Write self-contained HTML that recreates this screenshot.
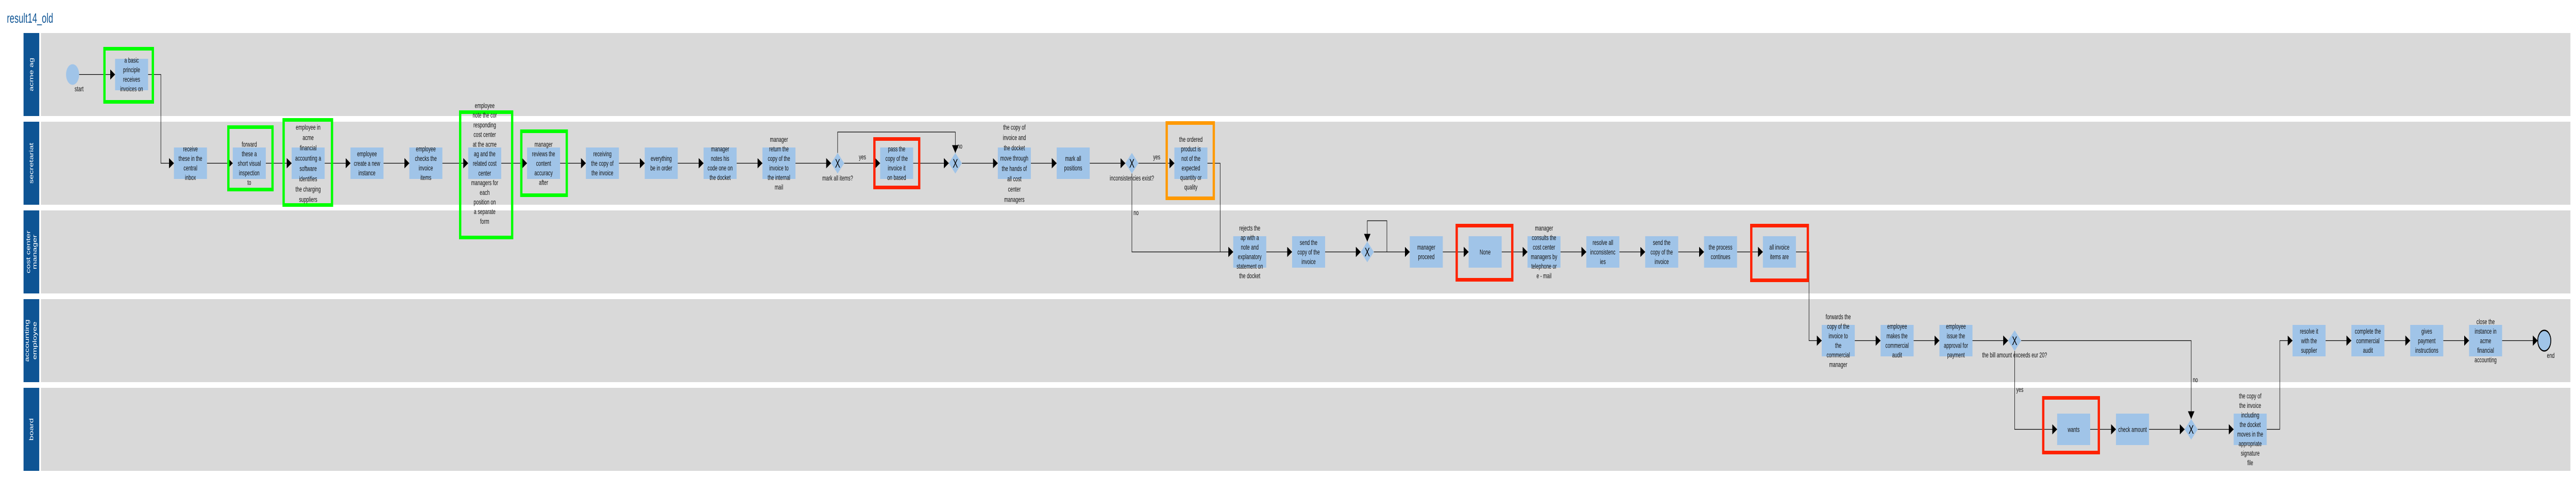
<!DOCTYPE html>
<html><head><meta charset="utf-8"><style>
html,body{margin:0;padding:0;background:#fff;width:100%;height:100%;overflow:hidden;}
svg{display:block;width:100vw;height:100vh;}
text{font-family:"Liberation Sans",Arial,sans-serif;}
.t{font-size:14px;fill:#111;text-anchor:middle;}
.l{font-size:14px;fill:#111;}
.ln{stroke:#000;stroke-width:1.3;fill:none;}
.a{marker-end:url(#ar);}
.task{fill:#a0c4e8;}
.gw{fill:#a0c4e8;}
.x{font-size:24px;fill:#000;text-anchor:middle;}
.lane{fill:#d9d9d9;}
.lbl{fill:#0e5494;}
.lt{font-size:17px;fill:#fff;text-anchor:middle;}
.g{fill:none;stroke:#00ff00;stroke-width:7;}
.r{fill:none;stroke:#ff2200;stroke-width:7;}
.o{fill:none;stroke:#ff9900;stroke-width:7;}
</style></head><body>
<svg viewBox="0 0 7879 954" preserveAspectRatio="none" xmlns="http://www.w3.org/2000/svg">
<defs>
<marker id="ar" markerUnits="userSpaceOnUse" markerWidth="15" markerHeight="20" viewBox="0 0 10 10" refX="10" refY="5" orient="auto" preserveAspectRatio="none">
<path d="M0,0 L10,5 L0,10 z" fill="#000"/></marker>
</defs>
<text x="21" y="44" style="font-size:26px;fill:#0e5494;">result14_old</text>

<rect class="lbl" x="72" y="64" width="48" height="161"/><rect class="lane" x="125" y="64" width="7737" height="161"/>
<rect class="lbl" x="72" y="236" width="48" height="161"/><rect class="lane" x="125" y="236" width="7737" height="161"/>
<rect class="lbl" x="72" y="408" width="48" height="161"/><rect class="lane" x="125" y="408" width="7737" height="161"/>
<rect class="lbl" x="72" y="580" width="48" height="161"/><rect class="lane" x="125" y="580" width="7737" height="161"/>
<rect class="lbl" x="72" y="752" width="48" height="161"/><rect class="lane" x="125" y="752" width="7737" height="161"/>
<text class="lt" transform="translate(102,144.5) rotate(-90)">acme ag</text>
<text class="lt" transform="translate(102,316.5) rotate(-90)">secretariat</text>
<text class="lt" transform="translate(92,488.5) rotate(-90)">cost center</text>
<text class="lt" transform="translate(112,488.5) rotate(-90)">manager</text>
<text class="lt" transform="translate(88,660.5) rotate(-90)">accounting</text>
<text class="lt" transform="translate(112,660.5) rotate(-90)">employee</text>
<text class="lt" transform="translate(102,832.5) rotate(-90)">board</text>

<path class="ln a" d="M242,144.5 H352"/>
<path class="ln a" d="M453,144.5 H492 V316.5 H532"/>
<path class="ln a" d="M633,316.5 H712"/>
<path class="ln a" d="M813,316.5 H892"/>
<path class="ln a" d="M993,316.5 H1072"/>
<path class="ln a" d="M1173,316.5 H1252"/>
<path class="ln a" d="M1353,316.5 H1432"/>
<path class="ln a" d="M1533,316.5 H1612"/>
<path class="ln a" d="M1713,316.5 H1792"/>
<path class="ln a" d="M1893,316.5 H1972"/>
<path class="ln a" d="M2073,316.5 H2152"/>
<path class="ln a" d="M2253,316.5 H2332"/>
<path class="ln a" d="M2433,316.5 H2542"/>
<path class="ln a" d="M2582,316.5 H2692"/>
<path class="ln a" d="M2562,296.5 V256 H2922 V296.5"/>
<path class="ln a" d="M2793,316.5 H2902"/>
<path class="ln a" d="M2942,316.5 H3052"/>
<path class="ln a" d="M3153,316.5 H3232"/>
<path class="ln a" d="M3333,316.5 H3442"/>
<path class="ln a" d="M3482,316.5 H3592"/>
<path class="ln a" d="M3462,336.5 V488.5 H3772"/>
<path class="ln" d="M3693,316.5 H3732 V488.5"/>
<path class="ln a" d="M3873,488.5 H3952"/>
<path class="ln a" d="M4053,488.5 H4162"/>
<path class="ln a" d="M4202,488.5 H4312"/>
<path class="ln a" d="M4242,488.5 V428 H4182 V468.5"/>
<path class="ln a" d="M4413,488.5 H4492"/>
<path class="ln a" d="M4593,488.5 H4672"/>
<path class="ln a" d="M4773,488.5 H4852"/>
<path class="ln a" d="M4953,488.5 H5032"/>
<path class="ln a" d="M5133,488.5 H5212"/>
<path class="ln a" d="M5313,488.5 H5392"/>
<path class="ln a" d="M5493,488.5 H5533 V660.5 H5572"/>
<path class="ln a" d="M5673,660.5 H5752"/>
<path class="ln a" d="M5853,660.5 H5932"/>
<path class="ln a" d="M6033,660.5 H6142"/>
<path class="ln a" d="M6182,660.5 H6702 V812.5"/>
<path class="ln a" d="M6162,680.5 V832.5 H6292"/>
<path class="ln a" d="M6393,832.5 H6472"/>
<path class="ln a" d="M6573,832.5 H6682"/>
<path class="ln a" d="M6722,832.5 H6832"/>
<path class="ln a" d="M6933,832.5 H6973 V660.5 H7012"/>
<path class="ln a" d="M7113,660.5 H7192"/>
<path class="ln a" d="M7293,660.5 H7372"/>
<path class="ln a" d="M7473,660.5 H7552"/>
<path class="ln a" d="M7653,660.5 H7762"/>

<circle cx="222" cy="144.5" r="20" fill="#a0c4e8"/>
<text class="t" x="242" y="177">start</text>
<circle cx="7782" cy="660.5" r="20" fill="#a0c4e8" stroke="#000" stroke-width="2.5"/>
<text class="l" x="7790" y="694">end</text>

<rect class="task" x="352" y="114" width="101" height="61"/>
<rect class="task" x="532" y="286" width="101" height="61"/>
<rect class="task" x="712" y="286" width="101" height="61"/>
<rect class="task" x="892" y="286" width="101" height="61"/>
<rect class="task" x="1072" y="286" width="101" height="61"/>
<rect class="task" x="1252" y="286" width="101" height="61"/>
<rect class="task" x="1432" y="286" width="101" height="61"/>
<rect class="task" x="1612" y="286" width="101" height="61"/>
<rect class="task" x="1792" y="286" width="101" height="61"/>
<rect class="task" x="1972" y="286" width="101" height="61"/>
<rect class="task" x="2152" y="286" width="101" height="61"/>
<rect class="task" x="2332" y="286" width="101" height="61"/>
<rect class="task" x="2692" y="286" width="101" height="61"/>
<rect class="task" x="3052" y="286" width="101" height="61"/>
<rect class="task" x="3232" y="286" width="101" height="61"/>
<rect class="task" x="3592" y="286" width="101" height="61"/>
<rect class="task" x="3772" y="458" width="101" height="61"/>
<rect class="task" x="3952" y="458" width="101" height="61"/>
<rect class="task" x="4312" y="458" width="101" height="61"/>
<rect class="task" x="4492" y="458" width="101" height="61"/>
<rect class="task" x="4672" y="458" width="101" height="61"/>
<rect class="task" x="4852" y="458" width="101" height="61"/>
<rect class="task" x="5032" y="458" width="101" height="61"/>
<rect class="task" x="5212" y="458" width="101" height="61"/>
<rect class="task" x="5392" y="458" width="101" height="61"/>
<rect class="task" x="5572" y="630" width="101" height="61"/>
<rect class="task" x="5752" y="630" width="101" height="61"/>
<rect class="task" x="5932" y="630" width="101" height="61"/>
<rect class="task" x="6292" y="802" width="101" height="61"/>
<rect class="task" x="6472" y="802" width="101" height="61"/>
<rect class="task" x="6832" y="802" width="101" height="61"/>
<rect class="task" x="7012" y="630" width="101" height="61"/>
<rect class="task" x="7192" y="630" width="101" height="61"/>
<rect class="task" x="7372" y="630" width="101" height="61"/>
<rect class="task" x="7552" y="630" width="101" height="61"/>

<polygon class="gw" points="2562,296.5 2582,316.5 2562,336.5 2542,316.5"/><text class="x" x="2562" y="325">X</text>
<polygon class="gw" points="2922,296.5 2942,316.5 2922,336.5 2902,316.5"/><text class="x" x="2922" y="325">X</text>
<polygon class="gw" points="3462,296.5 3482,316.5 3462,336.5 3442,316.5"/><text class="x" x="3462" y="325">X</text>
<polygon class="gw" points="4182,468.5 4202,488.5 4182,508.5 4162,488.5"/><text class="x" x="4182" y="497">X</text>
<polygon class="gw" points="6162,640.5 6182,660.5 6162,680.5 6142,660.5"/><text class="x" x="6162" y="669">X</text>
<polygon class="gw" points="6702,812.5 6722,832.5 6702,852.5 6682,832.5"/><text class="x" x="6702" y="841">X</text>

<rect class="g" x="319.5" y="94.5" width="148" height="103"/>
<rect class="g" x="698.5" y="246.5" width="135" height="121"/>
<rect class="g" x="867.5" y="232.5" width="148" height="165"/>
<rect class="g" x="1407.5" y="217.5" width="159" height="243"/>
<rect class="g" x="1594.5" y="254.5" width="139" height="124"/>
<rect class="r" x="2674.5" y="269.5" width="137" height="94"/>
<rect class="o" x="3568.5" y="238.5" width="144" height="146"/>
<rect class="r" x="4455.5" y="437.5" width="170" height="105"/>
<rect class="r" x="5356.5" y="437.5" width="173" height="106"/>
<rect class="r" x="6249.5" y="771.5" width="170" height="106"/>

<text class="t" x="2638" y="309">yes</text>
<text class="l" x="2928" y="288">no</text>
<text class="t" x="2562" y="350">mark all items?</text>
<text class="t" x="3538" y="309">yes</text>
<text class="t" x="3462" y="350">inconsistencies exist?</text>
<text class="l" x="3467" y="417">no</text>
<text class="t" x="6162" y="693">the bill amount exceeds eur 20?</text>
<text class="l" x="6707" y="741">no</text>
<text class="l" x="6167" y="760">yes</text>

<text class="t" x="402.5" y="121.75"><tspan x="402.5">a basic</tspan><tspan x="402.5" dy="18.5">principle</tspan><tspan x="402.5" dy="18.5">receives</tspan><tspan x="402.5" dy="18.5">invoices on</tspan></text>
<text class="t" x="582.5" y="293.75"><tspan x="582.5">receive</tspan><tspan x="582.5" dy="18.5">these in the</tspan><tspan x="582.5" dy="18.5">central</tspan><tspan x="582.5" dy="18.5">inbox</tspan></text>
<text class="t" x="762.5" y="284.5"><tspan x="762.5">forward</tspan><tspan x="762.5" dy="18.5">these a</tspan><tspan x="762.5" dy="18.5">short visual</tspan><tspan x="762.5" dy="18.5">inspection</tspan><tspan x="762.5" dy="18.5">to</tspan></text>
<text class="t" x="942.5" y="251.5"><tspan x="942.5">employee in</tspan><tspan x="942.5" dy="20">acme</tspan><tspan x="942.5" dy="20">financial</tspan><tspan x="942.5" dy="20">accounting a</tspan><tspan x="942.5" dy="20">software</tspan><tspan x="942.5" dy="20">identifies</tspan><tspan x="942.5" dy="20">the charging</tspan><tspan x="942.5" dy="20">suppliers</tspan></text>
<text class="t" x="1122.5" y="303"><tspan x="1122.5">employee</tspan><tspan x="1122.5" dy="18.5">create a new</tspan><tspan x="1122.5" dy="18.5">instance</tspan></text>
<text class="t" x="1302.5" y="293.75"><tspan x="1302.5">employee</tspan><tspan x="1302.5" dy="18.5">checks the</tspan><tspan x="1302.5" dy="18.5">invoice</tspan><tspan x="1302.5" dy="18.5">items</tspan></text>
<text class="t" x="1482.5" y="209.5"><tspan x="1482.5">employee</tspan><tspan x="1482.5" dy="18.7">note the cor</tspan><tspan x="1482.5" dy="18.7">responding</tspan><tspan x="1482.5" dy="18.7">cost center</tspan><tspan x="1482.5" dy="18.7">at the acme</tspan><tspan x="1482.5" dy="18.7">ag and the</tspan><tspan x="1482.5" dy="18.7">related cost</tspan><tspan x="1482.5" dy="18.7">center</tspan><tspan x="1482.5" dy="18.7">managers for</tspan><tspan x="1482.5" dy="18.7">each</tspan><tspan x="1482.5" dy="18.7">position on</tspan><tspan x="1482.5" dy="18.7">a separate</tspan><tspan x="1482.5" dy="18.7">form</tspan></text>
<text class="t" x="1662.5" y="284.5"><tspan x="1662.5">manager</tspan><tspan x="1662.5" dy="18.5">reviews the</tspan><tspan x="1662.5" dy="18.5">content</tspan><tspan x="1662.5" dy="18.5">accuracy</tspan><tspan x="1662.5" dy="18.5">after</tspan></text>
<text class="t" x="1842.5" y="303"><tspan x="1842.5">receiving</tspan><tspan x="1842.5" dy="18.5">the copy of</tspan><tspan x="1842.5" dy="18.5">the invoice</tspan></text>
<text class="t" x="2022.5" y="312.25"><tspan x="2022.5">everything</tspan><tspan x="2022.5" dy="18.5">be in order</tspan></text>
<text class="t" x="2202.5" y="293.75"><tspan x="2202.5">manager</tspan><tspan x="2202.5" dy="18.5">notes his</tspan><tspan x="2202.5" dy="18.5">code one on</tspan><tspan x="2202.5" dy="18.5">the docket</tspan></text>
<text class="t" x="2382.5" y="275.25"><tspan x="2382.5">manager</tspan><tspan x="2382.5" dy="18.5">return the</tspan><tspan x="2382.5" dy="18.5">copy of the</tspan><tspan x="2382.5" dy="18.5">invoice to</tspan><tspan x="2382.5" dy="18.5">the internal</tspan><tspan x="2382.5" dy="18.5">mail</tspan></text>
<text class="t" x="2742.5" y="293.75"><tspan x="2742.5">pass the</tspan><tspan x="2742.5" dy="18.5">copy of the</tspan><tspan x="2742.5" dy="18.5">invoice it</tspan><tspan x="2742.5" dy="18.5">on based</tspan></text>
<text class="t" x="3102.5" y="251.5"><tspan x="3102.5">the copy of</tspan><tspan x="3102.5" dy="20">invoice and</tspan><tspan x="3102.5" dy="20">the docket</tspan><tspan x="3102.5" dy="20">move through</tspan><tspan x="3102.5" dy="20">the hands of</tspan><tspan x="3102.5" dy="20">all cost</tspan><tspan x="3102.5" dy="20">center</tspan><tspan x="3102.5" dy="20">managers</tspan></text>
<text class="t" x="3282.5" y="312.25"><tspan x="3282.5">mark all</tspan><tspan x="3282.5" dy="18.5">positions</tspan></text>
<text class="t" x="3642.5" y="275.25"><tspan x="3642.5">the ordered</tspan><tspan x="3642.5" dy="18.5">product is</tspan><tspan x="3642.5" dy="18.5">not of the</tspan><tspan x="3642.5" dy="18.5">expected</tspan><tspan x="3642.5" dy="18.5">quantity or</tspan><tspan x="3642.5" dy="18.5">quality</tspan></text>
<text class="t" x="3822.5" y="447.25"><tspan x="3822.5">rejects the</tspan><tspan x="3822.5" dy="18.5">ap with a</tspan><tspan x="3822.5" dy="18.5">note and</tspan><tspan x="3822.5" dy="18.5">explanatory</tspan><tspan x="3822.5" dy="18.5">statement on</tspan><tspan x="3822.5" dy="18.5">the docket</tspan></text>
<text class="t" x="4002.5" y="475"><tspan x="4002.5">send the</tspan><tspan x="4002.5" dy="18.5">copy of the</tspan><tspan x="4002.5" dy="18.5">invoice</tspan></text>
<text class="t" x="4362.5" y="484.25"><tspan x="4362.5">manager</tspan><tspan x="4362.5" dy="18.5">proceed</tspan></text>
<text class="t" x="4542.5" y="493.5">None</text>
<text class="t" x="4722.5" y="447.25"><tspan x="4722.5">manager</tspan><tspan x="4722.5" dy="18.5">consults the</tspan><tspan x="4722.5" dy="18.5">cost center</tspan><tspan x="4722.5" dy="18.5">managers by</tspan><tspan x="4722.5" dy="18.5">telephone or</tspan><tspan x="4722.5" dy="18.5">e - mail</tspan></text>
<text class="t" x="4902.5" y="475"><tspan x="4902.5">resolve all</tspan><tspan x="4902.5" dy="18.5">inconsistenc</tspan><tspan x="4902.5" dy="18.5">ies</tspan></text>
<text class="t" x="5082.5" y="475"><tspan x="5082.5">send the</tspan><tspan x="5082.5" dy="18.5">copy of the</tspan><tspan x="5082.5" dy="18.5">invoice</tspan></text>
<text class="t" x="5262.5" y="484.25"><tspan x="5262.5">the process</tspan><tspan x="5262.5" dy="18.5">continues</tspan></text>
<text class="t" x="5442.5" y="484.25"><tspan x="5442.5">all invoice</tspan><tspan x="5442.5" dy="18.5">items are</tspan></text>
<text class="t" x="5622.5" y="619.25"><tspan x="5622.5">forwards the</tspan><tspan x="5622.5" dy="18.5">copy of the</tspan><tspan x="5622.5" dy="18.5">invoice to</tspan><tspan x="5622.5" dy="18.5">the</tspan><tspan x="5622.5" dy="18.5">commercial</tspan><tspan x="5622.5" dy="18.5">manager</tspan></text>
<text class="t" x="5802.5" y="637.75"><tspan x="5802.5">employee</tspan><tspan x="5802.5" dy="18.5">makes the</tspan><tspan x="5802.5" dy="18.5">commercial</tspan><tspan x="5802.5" dy="18.5">audit</tspan></text>
<text class="t" x="5982.5" y="637.75"><tspan x="5982.5">employee</tspan><tspan x="5982.5" dy="18.5">issue the</tspan><tspan x="5982.5" dy="18.5">approval for</tspan><tspan x="5982.5" dy="18.5">payment</tspan></text>
<text class="t" x="6342.5" y="837.5">wants</text>
<text class="t" x="6522.5" y="837.5">check amount</text>
<text class="t" x="6882.5" y="772.75"><tspan x="6882.5">the copy of</tspan><tspan x="6882.5" dy="18.5">the invoice</tspan><tspan x="6882.5" dy="18.5">including</tspan><tspan x="6882.5" dy="18.5">the docket</tspan><tspan x="6882.5" dy="18.5">moves in the</tspan><tspan x="6882.5" dy="18.5">appropriate</tspan><tspan x="6882.5" dy="18.5">signature</tspan><tspan x="6882.5" dy="18.5">file</tspan></text>
<text class="t" x="7062.5" y="647"><tspan x="7062.5">resolve it</tspan><tspan x="7062.5" dy="18.5">with the</tspan><tspan x="7062.5" dy="18.5">supplier</tspan></text>
<text class="t" x="7242.5" y="647"><tspan x="7242.5">complete the</tspan><tspan x="7242.5" dy="18.5">commercial</tspan><tspan x="7242.5" dy="18.5">audit</tspan></text>
<text class="t" x="7422.5" y="647"><tspan x="7422.5">gives</tspan><tspan x="7422.5" dy="18.5">payment</tspan><tspan x="7422.5" dy="18.5">instructions</tspan></text>
<text class="t" x="7602.5" y="628.5"><tspan x="7602.5">close the</tspan><tspan x="7602.5" dy="18.5">instance in</tspan><tspan x="7602.5" dy="18.5">acme</tspan><tspan x="7602.5" dy="18.5">financial</tspan><tspan x="7602.5" dy="18.5">accounting</tspan></text>
</svg>
</body></html>
